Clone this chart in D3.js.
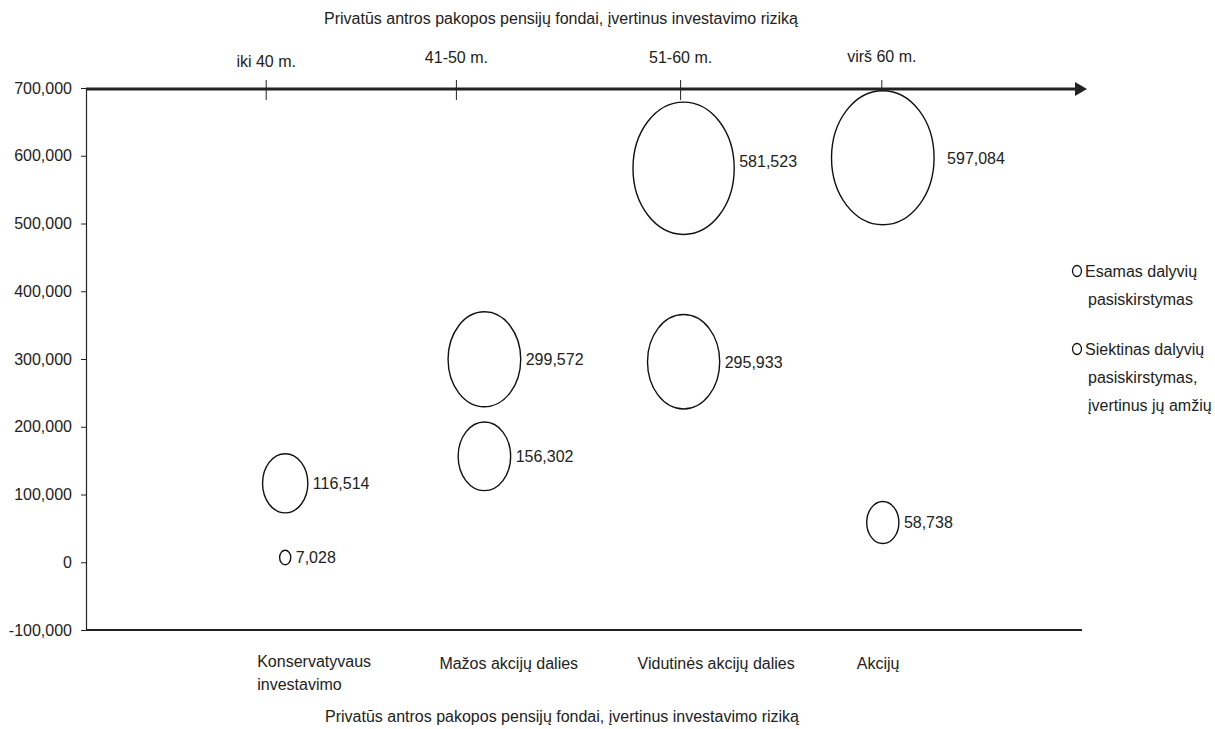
<!DOCTYPE html>
<html><head><meta charset="utf-8">
<script src="https://cdn.jsdelivr.net/npm/d3@7"></script>
<style>
body{margin:0;background:#fff;}
text{font-family:"Liberation Sans Narrow","Arial Narrow","Liberation Sans",sans-serif;fill:#222;}
</style></head>
<body><svg id="c" width="1215" height="729"></svg>
<script>
// ---- data ----
const categories = ["Konservatyvaus investavimo","Mažos akcijų dalies","Vidutinės akcijų dalies","Akcijų"];
const ageGroups = ["iki 40 m.","41-50 m.","51-60 m.","virš 60 m."];
const seriesNames = ["Esamas dalyvių pasiskirstymas","Siektinas dalyvių pasiskirstymas, įvertinus jų amžių"];
const esamas = [7028, 156302, 295933, 597084];
const siektinas = [116514, 299572, 581523, 58738];
const yTicks = [-100000,0,100000,200000,300000,400000,500000,600000,700000];
const axisTitle = "Privatūs antros pakopos pensijų fondai, įvertinus investavimo riziką";

// ---- layout / style ----
const svg = d3.select("#c");
const L = 86, R = 1082, T = 88, B = 630;
const x = d3.scaleLinear().domain([0,5]).range([L,R]);
const y = d3.scaleLinear().domain([-100000,700000]).range([B,T]);
const ry = d3.scaleSqrt().domain([0,600000]).range([0,67.2]);
const aspect = 0.765;
const fmt = d3.formatLocale({decimal:".",thousands:",",grouping:[3],currency:["",""],minus:"-"}).format(",");

// left axis
const ya = svg.append("g").attr("transform",`translate(${L},0)`)
  .call(d3.axisLeft(y).tickValues(yTicks).tickFormat(fmt).tickSize(5).tickPadding(9).tickSizeOuter(0));
ya.select(".domain").attr("stroke","#222").attr("stroke-width",1.2);
ya.selectAll(".tick line").attr("stroke","#222");
ya.selectAll("text").style("font-size","16px").attr("fill","#222");

// bottom axis line
svg.append("line").attr("x1",L).attr("x2",R).attr("y1",B).attr("y2",B)
  .attr("stroke","#222").attr("stroke-width",2);

// top arrow axis
svg.append("line").attr("x1",L).attr("x2",R-6).attr("y1",y(700000)+1).attr("y2",y(700000)+1)
  .attr("stroke","#222").attr("stroke-width",3);
svg.append("path").attr("d",`M${R-7},${y(700000)+1-7}L${R+5},${y(700000)+1}L${R-7},${y(700000)+1+7}Z`).attr("fill","#222");

// age ticks and labels on top
const ageNudge = [-19,-28,-3,-1];
const ageDy = [62,58,58,57];
ageGroups.forEach((a,i)=>{
  const xx = x(i+1)+ageNudge[i];
  svg.append("line").attr("x1",xx).attr("x2",xx).attr("y1",80).attr("y2",100).attr("stroke","#222").attr("stroke-width",1);
  svg.append("text").attr("x",xx).attr("y",ageDy[i]+5).attr("text-anchor","middle").style("font-size","16px").text(a);
});

// titles
svg.append("text").attr("x",561).attr("y",24).attr("text-anchor","middle").style("font-size","16px").text(axisTitle);
svg.append("text").attr("x",562).attr("y",722).attr("text-anchor","middle").style("font-size","16px").text(axisTitle);

// category labels
const catNudge = [-28,-45,-46,-26];
categories.forEach((c,i)=>{
  const t = svg.append("text").attr("x",x(i+1)+catNudge[i]).attr("y",i===0?667:669).style("font-size","16px");
  if(i===0){
    t.append("tspan").attr("x",x(i+1)+catNudge[i]).text("Konservatyvaus");
    t.append("tspan").attr("x",x(i+1)+catNudge[i]).attr("dy",23).text("investavimo");
  } else t.text(c);
});

// bubbles
const pts = [];
esamas.forEach((v,i)=>pts.push({v,i,s:0}));
siektinas.forEach((v,i)=>pts.push({v,i,s:1}));
pts.sort((a,b)=>b.v-a.v);
const g = svg.append("g");
g.selectAll("ellipse").data(pts).join("ellipse")
  .attr("cx",d=>x(d.i+1)).attr("cy",d=>y(d.v))
  .attr("ry",d=>ry(d.v)).attr("rx",d=>ry(d.v)*aspect)
  .attr("fill","#fff").attr("stroke","#111").attr("stroke-width",1.4);
g.selectAll("text").data(pts).join("text")
  .attr("x",d=>x(d.i+1)+ry(d.v)*aspect+(d.v===597084?13:5))
  .attr("y",d=>y(d.v)+6 - (d.v===581523?7:0))
  .style("font-size","16px").text(d=>fmt(d.v));

// legend
const leg = svg.append("g");
const legY = [271,349];
const legLines = [["Esamas dalyvių","pasiskirstymas"],["Siektinas dalyvių","pasiskirstymas,","įvertinus jų amžių"]];
seriesNames.forEach((s,i)=>{
  leg.append("ellipse").attr("cx",1077).attr("cy",legY[i]).attr("rx",4.5).attr("ry",5.5)
    .attr("fill","#fff").attr("stroke","#111").attr("stroke-width",1.3);
  const t = leg.append("text").attr("y",legY[i]+6).style("font-size","16px");
  legLines[i].forEach((ln,j)=>t.append("tspan").attr("x",j===0?1085:1088).attr("dy",j===0?0:28).text(ln));
});
</script></body></html>
